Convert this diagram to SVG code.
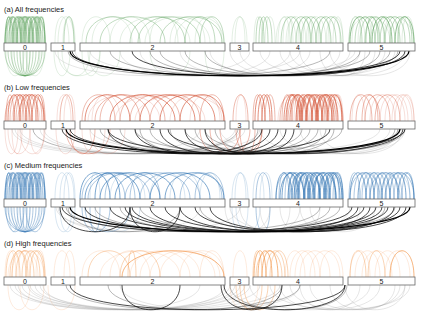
<svg xmlns="http://www.w3.org/2000/svg" width="423" height="317" viewBox="0 0 423 317">
<style>
text{font-family:"Liberation Sans",Arial,sans-serif;fill:#222}
.t{font-size:7.5px}
.l{font-size:7px;text-anchor:middle}
.n rect{fill:#fff;stroke:#666;stroke-width:.8}
path{fill:none;stroke-width:.7}
.G1{stroke:#4f9a4f;stroke-opacity:.85}.G2{stroke:#5aa05a;stroke-opacity:.55}.G3{stroke:#5aa05a;stroke-opacity:.25}
.R1{stroke:#d24f32;stroke-opacity:.9}.R2{stroke:#d5583c;stroke-opacity:.6}.R3{stroke:#d5583c;stroke-opacity:.28}
.B1{stroke:#2f73b3;stroke-opacity:.9}.B2{stroke:#3b7bb8;stroke-opacity:.6}.B3{stroke:#3b7bb8;stroke-opacity:.28}
.O1{stroke:#f08a36;stroke-opacity:.9}.O2{stroke:#f39a50;stroke-opacity:.6}.O3{stroke:#f5a060;stroke-opacity:.3}
.K0{stroke:#000;stroke-width:1.3}.K1{stroke:#111;stroke-opacity:.85;stroke-width:.9}.K2{stroke:#444;stroke-opacity:.55}.K3{stroke:#999;stroke-opacity:.35}
</style>

<!-- ===== Panel (a) ===== -->
<g id="panel-a">
<text class="t" x="4" y="12">(a) All frequencies</text>
<g id="connectors-a">
<path class="G1" d="M5 43C5 8 13 8 13 43M13 43C13 8 21 8 21 43M21 43C21 8 29 8 29 43M29 43C29 8 37 8 37 43M37 43C37 8 45 8 45 43"/>
<path class="G1" d="M9 43C9 8 17 8 17 43M17 43C17 8 25 8 25 43M25 43C25 8 33 8 33 43M33 43C33 8 41 8 41 43"/>
<path class="G2" d="M5 43C5 8 21 8 21 43M11 43C11 8 27 8 27 43M17 43C17 8 33 8 33 43M23 43C23 8 39 8 39 43M29 43C29 8 45 8 45 43"/>
<path class="G2" d="M7 43C7 8 15 8 15 43M15 43C15 8 23 8 23 43M23 43C23 8 31 8 31 43M31 43C31 8 39 8 39 43M39 43C39 8 45 8 45 43"/>
<path class="G2" d="M6 43C6 8 11 8 11 43M19 43C19 8 27 8 27 43M35 43C35 8 43 8 43 43"/>
<path class="G3" d="M5 43C5 8 29 8 29 43M13 43C13 8 37 8 37 43M21 43C21 8 45 8 45 43M7 43C7 8 43 8 43 43"/>
<path class="G2" d="M5 51C5 84 45 84 45 51M11 51C11 84 39 84 39 51M17 51C17 84 33 84 33 51M23 51C23 84 27 84 27 51"/>
<path class="G2" d="M8 51C8 84 42 84 42 51M14 51C14 84 36 84 36 51M20 51C20 84 30 84 30 51"/>
<path class="G3" d="M6 51C6 84 24 84 24 51M26 51C26 84 44 84 44 51M12 51C12 84 30 84 30 51M20 51C20 84 40 84 40 51"/>
<path class="G3" d="M55 43C55 8 69 8 69 43M63 43C63 8 75 8 75 43M58 43C58 8 74 8 74 43"/>
<path class="G2" d="M64 43C64 8 74 8 74 43"/>
<path class="G3" d="M54 51C54 84 70 84 70 51M58 51C58 84 100 84 100 51M62 51C62 84 90 84 90 51"/>
<path class="G2" d="M86 43C86 8 140 8 140 43"/>
<path class="G2" d="M100 43C100 8 165 8 165 43"/>
<path class="G2" d="M130 43C130 8 185 8 185 43"/>
<path class="G2" d="M138 43C138 8 200 8 200 43"/>
<path class="G2" d="M160 43C160 8 222 8 222 43"/>
<path class="G2" d="M185 43C185 8 215 8 215 43M200 43C200 8 224 8 224 43"/>
<path class="G3" d="M82 43C82 8 110 8 110 43M110 43C110 8 150 8 150 43M120 43C120 8 190 8 190 43"/>
<path class="G3" d="M145 43C145 8 210 8 210 43M170 43C170 8 205 8 205 43M92 43C92 8 132 8 132 43"/>
<path class="G3" d="M175 43C175 8 224 8 224 43M195 43C195 8 222 8 222 43M150 43C150 8 178 8 178 43"/>
<path class="G3" d="M82 51C82 84 100 84 100 51M88 51C88 84 120 84 120 51M205 51C205 84 224 84 224 51M150 51C150 84 190 84 190 51"/>
<path class="G3" d="M232 43C232 8 247 8 247 43M235 43C235 8 245 8 245 43"/>
<path class="G2" d="M256 43C256 8 264 8 264 43M259 43C259 8 268 8 268 43M262 43C262 8 272 8 272 43"/>
<path class="G3" d="M254 43C254 8 262 8 262 43M265 43C265 8 275 8 275 43"/>
<path class="G2" d="M281 43C281 8 301 8 301 43M301 43C301 8 321 8 321 43M321 43C321 8 341 8 341 43"/>
<path class="G2" d="M291 43C291 8 311 8 311 43M311 43C311 8 331 8 331 43"/>
<path class="G2" d="M296 43C296 8 316 8 316 43M316 43C316 8 336 8 336 43"/>
<path class="G3" d="M276 43C276 8 296 8 296 43M286 43C286 8 306 8 306 43M306 43C306 8 326 8 326 43M326 43C326 8 343 8 343 43"/>
<path class="G3" d="M278 43C278 8 290 8 290 43M288 43C288 8 300 8 300 43M298 43C298 8 310 8 310 43M308 43C308 8 320 8 320 43M318 43C318 8 330 8 330 43M328 43C328 8 340 8 340 43"/>
<path class="G3" d="M283 43C283 8 293 8 293 43M333 43C333 8 343 8 343 43M303 43C303 8 313 8 313 43"/>
<path class="G1" d="M350 43C350 8 370 8 370 43M372 43C372 8 392 8 392 43M395 43C395 8 414 8 414 43"/>
<path class="G2" d="M355 43C355 8 375 8 375 43M380 43C380 8 400 8 400 43"/>
<path class="G2" d="M360 43C360 8 380 8 380 43M385 43C385 8 405 8 405 43"/>
<path class="G2" d="M365 43C365 8 385 8 385 43M390 43C390 8 410 8 410 43"/>
<path class="G2" d="M349 43C349 8 362 8 362 43M366 43C366 8 378 8 378 43M398 43C398 8 412 8 412 43"/>
<path class="G2" d="M375 43C375 8 395 8 395 43"/>
<path class="G3" d="M352 43C352 8 365 8 365 43M370 43C370 8 384 8 384 43M384 43C384 8 398 8 398 43M402 43C402 8 414 8 414 43"/>
<path class="G3" d="M358 43C358 8 372 8 372 43M378 43C378 8 390 8 390 43M349 43C349 8 390 8 390 43M370 43C370 8 414 8 414 43"/>
<path class="K3" d="M75 51C75 84 300 84 300 51"/>
<path class="K3" d="M90 51C90 84 355 84 355 51"/>
<path class="K3" d="M140 51C140 84 290 84 290 51"/>
<path class="K3" d="M210 51C210 84 350 84 350 51"/>
<path class="K3" d="M260 51C260 84 395 84 395 51"/>
<path class="K3" d="M280 51C280 84 385 84 385 51"/>
<path class="K3" d="M300 51C300 84 375 84 375 51"/>
<path class="K3" d="M320 51C320 84 365 84 365 51"/>
<path class="K3" d="M240 51C240 84 360 84 360 51"/>
<path class="K3" d="M55 51C55 84 250 84 250 51"/>
<path class="K3" d="M120 51C120 84 270 84 270 51"/>
<path class="K3" d="M180 51C180 84 310 84 310 51"/>
<path class="K3" d="M230 51C230 84 340 84 340 51"/>
<path class="K3" d="M290 51C290 84 405 84 405 51"/>
<path class="K3" d="M330 51C330 84 410 84 410 51"/>
<path class="K2" d="M160 51C160 84 398 84 398 51"/>
<path class="K2" d="M185 51C185 84 390 84 390 51"/>
<path class="K2" d="M205 51C205 84 380 84 380 51"/>
<path class="K2" d="M110 51C110 84 370 84 370 51"/>
<path class="K2" d="M68 51C68 84 330 84 330 51"/>
<path class="K2" d="M150 51C150 84 360 84 360 51"/>
<path class="K1" d="M72 51C72 84 400 84 400 51"/>
<path class="K1" d="M132 51C132 84 405 84 405 51"/>
<path class="K0" d="M70 51C70 84 409 84 409 51"/>
</g>
<g id="a0" class="n"><rect x="4" y="43" width="42" height="8"/><text class="l" x="25" y="49.6">0</text></g>
<g id="a1" class="n"><rect x="51" y="43" width="24" height="8"/><text class="l" x="63" y="49.6">1</text></g>
<g id="a2" class="n"><rect x="80" y="43" width="145" height="8"/><text class="l" x="152.5" y="49.6">2</text></g>
<g id="a3" class="n"><rect x="230" y="43" width="19" height="8"/><text class="l" x="239.5" y="49.6">3</text></g>
<g id="a4" class="n"><rect x="253" y="43" width="90" height="8"/><text class="l" x="298" y="49.6">4</text></g>
<g id="a5" class="n"><rect x="348" y="43" width="67" height="8"/><text class="l" x="381.5" y="49.6">5</text></g>
</g>

<!-- ===== Panel (b) ===== -->
<g id="panel-b" transform="translate(0,78)">
<text class="t" x="4" y="12">(b) Low frequencies</text>
<g id="connectors-b">
<path class="R1" d="M8 43C8 8 20 8 20 43M20 43C20 8 32 8 32 43M32 43C32 8 44 8 44 43"/>
<path class="R1" d="M14 43C14 8 26 8 26 43M26 43C26 8 38 8 38 43"/>
<path class="R2" d="M6 43C6 8 14 8 14 43M16 43C16 8 30 8 30 43M36 43C36 8 45 8 45 43"/>
<path class="R2" d="M10 43C10 8 24 8 24 43M28 43C28 8 42 8 42 43"/>
<path class="R2" d="M22 43C22 8 36 8 36 43M5 43C5 8 30 8 30 43M18 43C18 8 44 8 44 43"/>
<path class="R3" d="M6 43C6 8 40 8 40 43M12 43C12 8 45 8 45 43"/>
<path class="R3" d="M5 51C5 84 18 84 18 51M8 51C8 84 30 84 30 51M20 51C20 84 45 84 45 51M30 51C30 84 44 84 44 51M12 51C12 84 22 84 22 51"/>
<path class="K3" d="M15 51C15 84 235 84 235 51"/>
<path class="K3" d="M20 51C20 84 245 84 245 51"/>
<path class="K3" d="M40 51C40 84 240 84 240 51"/>
<path class="K3" d="M44 51C44 84 260 84 260 51"/>
<path class="K3" d="M12 51C12 84 200 84 200 51"/>
<path class="K2" d="M33 51C33 84 238 84 238 51"/>
<path class="R3" d="M57 43C57 8 71 8 71 43M64 43C64 8 75 8 75 43"/>
<path class="R2" d="M60 43C60 8 73 8 73 43"/>
<path class="R2" d="M66 51C66 84 110 84 110 51M70 51C70 84 95 84 95 51"/>
<path class="R3" d="M56 51C56 84 75 84 75 51"/>
<path class="R1" d="M85 43C85 8 130 8 130 43"/>
<path class="R1" d="M110 43C110 8 175 8 175 43"/>
<path class="R1" d="M140 43C140 8 195 8 195 43"/>
<path class="R1" d="M160 43C160 8 215 8 215 43"/>
<path class="R1" d="M180 43C180 8 224 8 224 43"/>
<path class="R2" d="M95 43C95 8 150 8 150 43M200 43C200 8 224 8 224 43"/>
<path class="R2" d="M120 43C120 8 165 8 165 43"/>
<path class="R2" d="M82 43C82 8 115 8 115 43M130 43C130 8 180 8 180 43"/>
<path class="R2" d="M150 43C150 8 200 8 200 43M100 43C100 8 140 8 140 43"/>
<path class="R3" d="M170 43C170 8 222 8 222 43M88 43C88 8 160 8 160 43"/>
<path class="R3" d="M115 43C115 8 205 8 205 43M190 43C190 8 220 8 220 43"/>
<path class="R3" d="M92 43C92 8 120 8 120 43M135 43C135 8 225 8 225 43"/>
<path class="R2" d="M200 51C200 84 240 84 240 51M210 51C210 84 250 84 250 51M220 51C220 84 262 84 262 51"/>
<path class="R3" d="M82 51C82 84 105 84 105 51M90 51C90 84 125 84 125 51"/>
<path class="R2" d="M233 43C233 8 248 8 248 43"/>
<path class="R3" d="M236 43C236 8 246 8 246 43"/>
<path class="R2" d="M236 51C236 84 262 84 262 51M240 51C240 84 255 84 255 51"/>
<path class="R1" d="M255 43C255 8 265 8 265 43M262 43C262 8 272 8 272 43"/>
<path class="R1" d="M258 43C258 8 270 8 270 43"/>
<path class="R2" d="M265 43C265 8 275 8 275 43M253 43C253 8 262 8 262 43"/>
<path class="R1" d="M284 43C284 8 300 8 300 43M300 43C300 8 316 8 316 43M316 43C316 8 332 8 332 43"/>
<path class="R1" d="M290 43C290 8 306 8 306 43M306 43C306 8 322 8 322 43M322 43C322 8 338 8 338 43"/>
<path class="R1" d="M296 43C296 8 312 8 312 43M312 43C312 8 328 8 328 43M328 43C328 8 342 8 342 43"/>
<path class="R1" d="M302 43C302 8 318 8 318 43M318 43C318 8 334 8 334 43M286 43C286 8 302 8 302 43"/>
<path class="R2" d="M282 43C282 8 292 8 292 43M292 43C292 8 302 8 302 43M302 43C302 8 312 8 312 43M312 43C312 8 322 8 322 43M322 43C322 8 332 8 332 43M332 43C332 8 342 8 342 43"/>
<path class="R2" d="M287 43C287 8 297 8 297 43M297 43C297 8 307 8 307 43M307 43C307 8 317 8 317 43M317 43C317 8 327 8 327 43M327 43C327 8 337 8 337 43"/>
<path class="R2" d="M280 43C280 8 300 8 300 43M298 43C298 8 318 8 318 43M316 43C316 8 336 8 336 43"/>
<path class="R2" d="M288 43C288 8 308 8 308 43M306 43C306 8 326 8 326 43M324 43C324 8 343 8 343 43"/>
<path class="R3" d="M278 43C278 8 310 8 310 43M300 43C300 8 330 8 330 43M310 43C310 8 342 8 342 43"/>
<path class="R3" d="M294 43C294 8 304 8 304 43M314 43C314 8 324 8 324 43M334 43C334 8 343 8 343 43"/>
<path class="R2" d="M350 43C350 8 372 8 372 43M375 43C375 8 400 8 400 43"/>
<path class="R2" d="M356 43C356 8 380 8 380 43"/>
<path class="R2" d="M365 43C365 8 390 8 390 43M362 43C362 8 378 8 378 43"/>
<path class="R3" d="M385 43C385 8 408 8 408 43M395 43C395 8 414 8 414 43M352 43C352 8 365 8 365 43"/>
<path class="R3" d="M370 43C370 8 395 8 395 43M380 43C380 8 405 8 405 43M392 43C392 8 412 8 412 43M400 43C400 8 414 8 414 43"/>
<path class="K3" d="M90 51C90 84 380 84 380 51"/>
<path class="K3" d="M220 51C220 84 390 84 390 51"/>
<path class="K3" d="M260 51C260 84 400 84 400 51"/>
<path class="K3" d="M280 51C280 84 405 84 405 51"/>
<path class="K3" d="M300 51C300 84 398 84 398 51"/>
<path class="K3" d="M320 51C320 84 402 84 402 51"/>
<path class="K2" d="M120 51C120 84 302 84 302 51"/>
<path class="K2" d="M150 51C150 84 310 84 310 51"/>
<path class="K2" d="M170 51C170 84 318 84 318 51"/>
<path class="K2" d="M195 51C195 84 326 84 326 51"/>
<path class="K2" d="M215 51C215 84 334 84 334 51"/>
<path class="K2" d="M100 51C100 84 342 84 342 51"/>
<path class="K2" d="M140 51C140 84 258 84 258 51"/>
<path class="K2" d="M135 51C135 84 398 84 398 51"/>
<path class="K2" d="M185 51C185 84 405 84 405 51"/>
<path class="K2" d="M205 51C205 84 395 84 395 51"/>
<path class="K1" d="M108 51C108 84 262 84 262 51"/>
<path class="K1" d="M135 51C135 84 270 84 270 51"/>
<path class="K1" d="M160 51C160 84 278 84 278 51"/>
<path class="K1" d="M185 51C185 84 286 84 286 51"/>
<path class="K1" d="M205 51C205 84 294 84 294 51"/>
<path class="K1" d="M108 51C108 84 400 84 400 51"/>
<path class="K1" d="M168 51C168 84 403 84 403 51"/>
<path class="K1" d="M62 51C62 84 330 84 330 51"/>
<path class="K0" d="M66 51C66 84 400 84 400 51"/>
<path class="K1" d="M70 51C70 84 405 84 405 51"/>
</g>
<g id="b0" class="n"><rect x="4" y="43" width="42" height="8"/><text class="l" x="25" y="49.6">0</text></g>
<g id="b1" class="n"><rect x="51" y="43" width="24" height="8"/><text class="l" x="63" y="49.6">1</text></g>
<g id="b2" class="n"><rect x="80" y="43" width="145" height="8"/><text class="l" x="152.5" y="49.6">2</text></g>
<g id="b3" class="n"><rect x="230" y="43" width="19" height="8"/><text class="l" x="239.5" y="49.6">3</text></g>
<g id="b4" class="n"><rect x="253" y="43" width="90" height="8"/><text class="l" x="298" y="49.6">4</text></g>
<g id="b5" class="n"><rect x="348" y="43" width="67" height="8"/><text class="l" x="381.5" y="49.6">5</text></g>
</g>

<!-- ===== Panel (c) ===== -->
<g id="panel-c" transform="translate(0,156)">
<text class="t" x="4" y="12">(c) Medium frequencies</text>
<g id="connectors-c">
<path class="B1" d="M5 43C5 8 13 8 13 43M13 43C13 8 21 8 21 43M21 43C21 8 29 8 29 43M29 43C29 8 37 8 37 43M37 43C37 8 45 8 45 43"/>
<path class="B1" d="M9 43C9 8 17 8 17 43M17 43C17 8 25 8 25 43M25 43C25 8 33 8 33 43M33 43C33 8 41 8 41 43"/>
<path class="B2" d="M5 43C5 8 21 8 21 43M11 43C11 8 27 8 27 43M17 43C17 8 33 8 33 43M23 43C23 8 39 8 39 43M29 43C29 8 45 8 45 43"/>
<path class="B2" d="M7 43C7 8 15 8 15 43M15 43C15 8 23 8 23 43M23 43C23 8 31 8 31 43M31 43C31 8 39 8 39 43M39 43C39 8 45 8 45 43"/>
<path class="B2" d="M6 43C6 8 11 8 11 43M19 43C19 8 27 8 27 43M35 43C35 8 43 8 43 43"/>
<path class="B3" d="M5 43C5 8 29 8 29 43M13 43C13 8 37 8 37 43M21 43C21 8 45 8 45 43M7 43C7 8 43 8 43 43"/>
<path class="B2" d="M5 51C5 84 45 84 45 51M11 51C11 84 39 84 39 51M17 51C17 84 33 84 33 51M23 51C23 84 27 84 27 51"/>
<path class="B2" d="M8 51C8 84 42 84 42 51M14 51C14 84 36 84 36 51M20 51C20 84 30 84 30 51"/>
<path class="B2" d="M6 51C6 84 24 84 24 51M26 51C26 84 44 84 44 51"/>
<path class="B3" d="M12 51C12 84 30 84 30 51M20 51C20 84 40 84 40 51M9 51C9 84 18 84 18 51"/>
<path class="B3" d="M55 43C55 8 69 8 69 43M60 43C60 8 74 8 74 43M64 43C64 8 75 8 75 43"/>
<path class="B3" d="M55 51C55 84 72 84 72 51M60 51C60 84 75 84 75 51"/>
<path class="B1" d="M80 43C80 8 110 8 110 43M115 43C115 8 175 8 175 43"/>
<path class="B1" d="M85 43C85 8 140 8 140 43M150 43C150 8 210 8 210 43"/>
<path class="B1" d="M95 43C95 8 120 8 120 43M165 43C165 8 224 8 224 43"/>
<path class="B1" d="M100 43C100 8 160 8 160 43"/>
<path class="B2" d="M82 43C82 8 125 8 125 43M140 43C140 8 200 8 200 43"/>
<path class="B2" d="M88 43C88 8 150 8 150 43M180 43C180 8 222 8 222 43"/>
<path class="B2" d="M105 43C105 8 135 8 135 43M195 43C195 8 224 8 224 43"/>
<path class="B2" d="M125 43C125 8 190 8 190 43M130 43C130 8 160 8 160 43"/>
<path class="B3" d="M170 43C170 8 200 8 200 43M110 43C110 8 145 8 145 43M200 43C200 8 220 8 220 43"/>
<path class="B3" d="M150 43C150 8 185 8 185 43M90 43C90 8 100 8 100 43"/>
<path class="B2" d="M82 51C82 84 110 84 110 51M85 51C85 84 130 84 130 51M90 51C90 84 100 84 100 51"/>
<path class="B3" d="M95 51C95 84 140 84 140 51"/>
<path class="B3" d="M232 43C232 8 248 8 248 43M235 43C235 8 246 8 246 43"/>
<path class="B3" d="M232 51C232 84 248 84 248 51M236 51C236 84 260 84 260 51"/>
<path class="B2" d="M256 43C256 8 270 8 270 43M256 51C256 84 270 84 270 51"/>
<path class="B3" d="M253 43C253 8 264 8 264 43M260 43C260 8 272 8 272 43"/>
<path class="B1" d="M276 43C276 8 292 8 292 43M292 43C292 8 308 8 308 43M308 43C308 8 324 8 324 43M324 43C324 8 340 8 340 43"/>
<path class="B1" d="M282 43C282 8 298 8 298 43M298 43C298 8 314 8 314 43M314 43C314 8 330 8 330 43M330 43C330 8 343 8 343 43"/>
<path class="B1" d="M288 43C288 8 304 8 304 43M304 43C304 8 320 8 320 43M320 43C320 8 336 8 336 43"/>
<path class="B1" d="M294 43C294 8 310 8 310 43M310 43C310 8 326 8 326 43M326 43C326 8 342 8 342 43"/>
<path class="B1" d="M280 43C280 8 304 8 304 43M296 43C296 8 320 8 320 43M312 43C312 8 336 8 336 43"/>
<path class="B2" d="M279 43C279 8 289 8 289 43M289 43C289 8 299 8 299 43M299 43C299 8 309 8 309 43M309 43C309 8 319 8 319 43M319 43C319 8 329 8 329 43M329 43C329 8 339 8 339 43"/>
<path class="B2" d="M285 43C285 8 295 8 295 43M295 43C295 8 305 8 305 43M305 43C305 8 315 8 315 43M315 43C315 8 325 8 325 43M325 43C325 8 335 8 335 43M333 43C333 8 343 8 343 43"/>
<path class="B2" d="M276 43C276 8 300 8 300 43M290 43C290 8 314 8 314 43M304 43C304 8 328 8 328 43M318 43C318 8 342 8 342 43"/>
<path class="B1" d="M350 43C350 8 366 8 366 43M366 43C366 8 382 8 382 43M382 43C382 8 398 8 398 43M398 43C398 8 414 8 414 43"/>
<path class="B1" d="M358 43C358 8 374 8 374 43M374 43C374 8 390 8 390 43M390 43C390 8 406 8 406 43"/>
<path class="B2" d="M349 43C349 8 360 8 360 43M362 43C362 8 378 8 378 43M378 43C378 8 394 8 394 43M394 43C394 8 410 8 410 43"/>
<path class="B2" d="M354 43C354 8 370 8 370 43M370 43C370 8 386 8 386 43M386 43C386 8 402 8 402 43M402 43C402 8 414 8 414 43"/>
<path class="B2" d="M350 43C350 8 380 8 380 43M370 43C370 8 400 8 400 43M385 43C385 8 414 8 414 43"/>
<path class="B3" d="M360 43C360 8 390 8 390 43M380 43C380 8 410 8 410 43"/>
<path class="K3" d="M240 51C240 84 300 84 300 51"/>
<path class="K3" d="M260 51C260 84 290 84 290 51"/>
<path class="K3" d="M280 51C280 84 320 84 320 51"/>
<path class="K3" d="M225 51C225 84 270 84 270 51"/>
<path class="K3" d="M230 51C230 84 350 84 350 51"/>
<path class="K3" d="M300 51C300 84 360 84 360 51"/>
<path class="K3" d="M310 51C310 84 375 84 375 51"/>
<path class="K3" d="M56 51C56 84 240 84 240 51"/>
<path class="K3" d="M58 51C58 84 200 84 200 51"/>
<path class="K2" d="M95 51C95 84 340 84 340 51"/>
<path class="K2" d="M120 51C120 84 330 84 330 51"/>
<path class="K2" d="M140 51C140 84 395 84 395 51"/>
<path class="K2" d="M200 51C200 84 385 84 385 51"/>
<path class="K2" d="M66 51C66 84 320 84 320 51"/>
<path class="K2" d="M68 51C68 84 180 84 180 51"/>
<path class="K1" d="M60 51C60 84 130 84 130 51"/>
<path class="K1" d="M130 51C130 84 180 84 180 51"/>
<path class="K1" d="M62 51C62 84 352 84 352 51"/>
<path class="K1" d="M85 51C85 84 364 84 364 51"/>
<path class="K1" d="M110 51C110 84 376 84 376 51"/>
<path class="K1" d="M132 51C132 84 388 84 388 51"/>
<path class="K1" d="M165 51C165 84 400 84 400 51"/>
<path class="K1" d="M195 51C195 84 406 84 406 51"/>
<path class="K1" d="M150 51C150 84 358 84 358 51"/>
<path class="K1" d="M180 51C180 84 370 84 370 51"/>
<path class="K1" d="M210 51C210 84 394 84 394 51"/>
<path class="K1" d="M125 51C125 84 382 84 382 51"/>
<path class="K0" d="M70 51C70 84 410 84 410 51"/>
</g>
<g id="c0" class="n"><rect x="4" y="43" width="42" height="8"/><text class="l" x="25" y="49.6">0</text></g>
<g id="c1" class="n"><rect x="51" y="43" width="24" height="8"/><text class="l" x="63" y="49.6">1</text></g>
<g id="c2" class="n"><rect x="80" y="43" width="145" height="8"/><text class="l" x="152.5" y="49.6">2</text></g>
<g id="c3" class="n"><rect x="230" y="43" width="19" height="8"/><text class="l" x="239.5" y="49.6">3</text></g>
<g id="c4" class="n"><rect x="253" y="43" width="90" height="8"/><text class="l" x="298" y="49.6">4</text></g>
<g id="c5" class="n"><rect x="348" y="43" width="67" height="8"/><text class="l" x="381.5" y="49.6">5</text></g>
</g>

<!-- ===== Panel (d) ===== -->
<g id="panel-d" transform="translate(0,234)">
<text class="t" x="4" y="12">(d) High frequencies</text>
<g id="connectors-d">
<path class="O2" d="M6 43C6 8 20 8 20 43M22 43C22 8 40 8 40 43"/>
<path class="O2" d="M10 43C10 8 28 8 28 43M30 43C30 8 45 8 45 43"/>
<path class="O2" d="M16 43C16 8 34 8 34 43M12 43C12 8 26 8 26 43"/>
<path class="O2" d="M26 43C26 8 44 8 44 43"/>
<path class="O3" d="M8 43C8 8 44 8 44 43M12 43C12 8 38 8 38 43M5 43C5 8 16 8 16 43M36 43C36 8 45 8 45 43M18 43C18 8 30 8 30 43"/>
<path class="O3" d="M8 51C8 84 30 84 30 51M20 51C20 84 44 84 44 51M48 51C48 84 75 84 75 51"/>
<path class="K3" d="M10 51C10 84 230 84 230 51"/>
<path class="K3" d="M15 51C15 84 240 84 240 51"/>
<path class="K3" d="M22 51C22 84 250 84 250 51"/>
<path class="K3" d="M28 51C28 84 235 84 235 51"/>
<path class="K3" d="M35 51C35 84 245 84 245 51"/>
<path class="K3" d="M43 51C43 84 225 84 225 51"/>
<path class="K3" d="M40 51C40 84 260 84 260 51"/>
<path class="K3" d="M30 51C30 84 280 84 280 51"/>
<path class="K3" d="M18 51C18 84 200 84 200 51"/>
<path class="O3" d="M54 43C54 8 70 8 70 43M64 43C64 8 75 8 75 43"/>
<path class="O1" d="M122 43C122 8 224 8 224 43"/>
<path class="O2" d="M120 43C120 8 160 8 160 43M88 43C88 8 130 8 130 43M128 43C128 8 136 8 136 43"/>
<path class="O3" d="M82 43C82 8 120 8 120 43M100 43C100 8 180 8 180 43M140 43C140 8 200 8 200 43"/>
<path class="O3" d="M160 43C160 8 220 8 220 43M180 43C180 8 224 8 224 43M110 43C110 8 150 8 150 43"/>
<path class="O3" d="M130 43C130 8 190 8 190 43M150 43C150 8 215 8 215 43M200 43C200 8 224 8 224 43"/>
<path class="O3" d="M233 43C233 8 247 8 247 43"/>
<path class="O2" d="M236 51C236 84 268 84 268 51M240 51C240 84 262 84 262 51M244 51C244 84 275 84 275 51"/>
<path class="O3" d="M230 51C230 84 258 84 258 51"/>
<path class="O1" d="M254 43C254 8 266 8 266 43M262 43C262 8 278 8 278 43"/>
<path class="O1" d="M258 43C258 8 272 8 272 43"/>
<path class="O2" d="M256 43C256 8 282 8 282 43M266 43C266 8 285 8 285 43"/>
<path class="O2" d="M270 43C270 8 288 8 288 43M253 43C253 8 262 8 262 43"/>
<path class="O3" d="M290 43C290 8 315 8 315 43M300 43C300 8 330 8 330 43M310 43C310 8 340 8 340 43"/>
<path class="O3" d="M320 43C320 8 343 8 343 43M285 43C285 8 305 8 305 43M295 43C295 8 320 8 320 43"/>
<path class="O3" d="M350 43C350 8 370 8 370 43M375 43C375 8 400 8 400 43"/>
<path class="O3" d="M355 43C355 8 380 8 380 43M385 43C385 8 410 8 410 43"/>
<path class="O3" d="M362 43C362 8 392 8 392 43"/>
<path class="O2" d="M350 43C350 8 366 8 366 43M368 43C368 8 385 8 385 43"/>
<path class="O1" d="M390 43C390 8 414 8 414 43"/>
<path class="K3" d="M270 51C270 84 410 84 410 51"/>
<path class="K3" d="M290 51C290 84 405 84 405 51"/>
<path class="K3" d="M310 51C310 84 400 84 400 51"/>
<path class="K3" d="M330 51C330 84 395 84 395 51"/>
<path class="K3" d="M280 51C280 84 380 84 380 51"/>
<path class="K3" d="M250 51C250 84 370 84 370 51"/>
<path class="K3" d="M345 51C345 84 405 84 405 51"/>
<path class="K3" d="M300 51C300 84 360 84 360 51"/>
<path class="K3" d="M120 51C120 84 300 84 300 51"/>
<path class="K2" d="M66 51C66 84 300 84 300 51"/>
<path class="K2" d="M108 51C108 84 282 84 282 51"/>
<path class="K2" d="M230 51C230 84 347 84 347 51"/>
<path class="K1" d="M122 51C122 84 180 84 180 51"/>
<path class="K1" d="M70 51C70 84 345 84 345 51"/>
<path class="K1" d="M221 51C221 84 282 84 282 51"/>
<path class="K1" d="M224 51C224 84 345 84 345 51"/>
</g>
<g id="d0" class="n"><rect x="4" y="43" width="42" height="8"/><text class="l" x="25" y="49.6">0</text></g>
<g id="d1" class="n"><rect x="51" y="43" width="24" height="8"/><text class="l" x="63" y="49.6">1</text></g>
<g id="d2" class="n"><rect x="80" y="43" width="145" height="8"/><text class="l" x="152.5" y="49.6">2</text></g>
<g id="d3" class="n"><rect x="230" y="43" width="19" height="8"/><text class="l" x="239.5" y="49.6">3</text></g>
<g id="d4" class="n"><rect x="253" y="43" width="90" height="8"/><text class="l" x="298" y="49.6">4</text></g>
<g id="d5" class="n"><rect x="348" y="43" width="67" height="8"/><text class="l" x="381.5" y="49.6">5</text></g>
</g>
</svg>
